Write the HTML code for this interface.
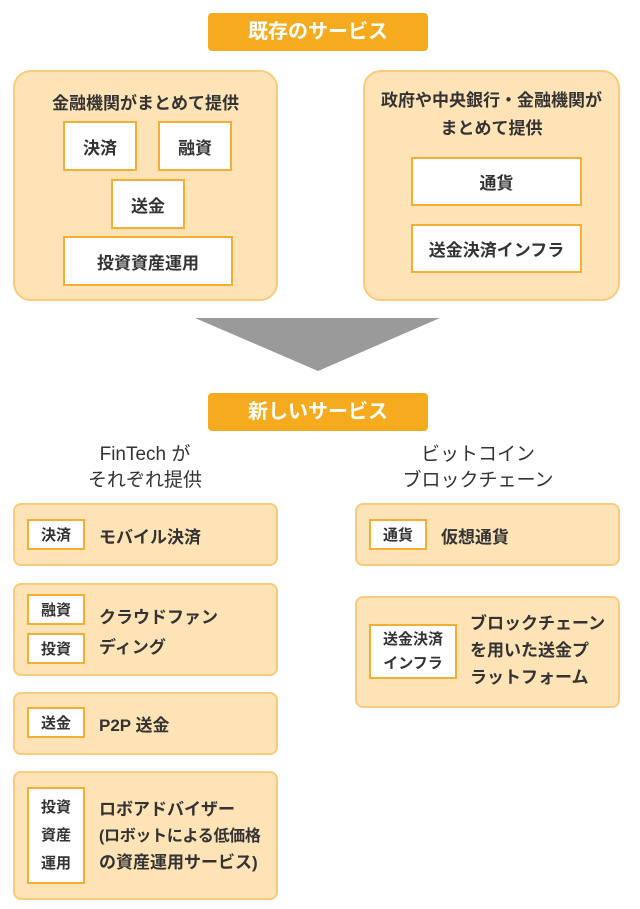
<!DOCTYPE html>
<html><head><meta charset="utf-8"><style>
body{margin:0;width:640px;height:909px;background:#fff;position:relative;overflow:hidden;font-family:"Liberation Sans","Noto Sans CJK JP",sans-serif;color:#333;font-weight:bold}
div{position:absolute;box-sizing:border-box}
.pill{background:#f6ab1e;color:#fff;border-radius:4px;font-size:20px;text-align:center;line-height:38px}
.grp{background:#fde3b6;border:2px solid #f8cc7c;border-radius:18px}
.card{background:#fde3b6;border:2px solid #f8cc7c;border-radius:8px}
.w{background:#fff;border:2px solid #f5ad32;text-align:center;font-size:17px;display:flex;align-items:center;justify-content:center}
.t{font-size:17px;white-space:nowrap}
.h{font-size:19px;font-weight:normal;text-align:center;line-height:26px;color:#333}
.s{font-size:15px}
</style></head><body>
<div class="pill" style="left:208px;top:13px;width:220px;height:38px">既存のサービス</div>
<div class="grp" style="left:13px;top:70px;width:265px;height:231px"></div>
<div class="t" style="left:13px;width:265px;top:89px;text-align:center">金融機関がまとめて提供</div>
<div class="w" style="left:63px;top:121px;width:74px;height:50px">決済</div>
<div class="w" style="left:158px;top:121px;width:74px;height:50px">融資</div>
<div class="w" style="left:111px;top:179px;width:74px;height:50px">送金</div>
<div class="w" style="left:63px;top:236px;width:170px;height:50px">投資資産運用</div>
<div class="grp" style="left:363px;top:70px;width:257px;height:231px"></div>
<div class="t" style="left:363px;width:257px;top:87px;text-align:center;line-height:28px">政府や中央銀行・金融機関が<br>まとめて提供</div>
<div class="w" style="left:411px;top:157px;width:171px;height:49px">通貨</div>
<div class="w" style="left:411px;top:224px;width:171px;height:49px">送金決済インフラ</div>
<svg style="position:absolute;left:0;top:0" width="640" height="909"><polygon points="195,318 440,318 318,371" fill="#9a9a9a"/></svg>
<div class="pill" style="left:208px;top:393px;width:220px;height:38px">新しいサービス</div>
<div class="h" style="left:45px;width:200px;top:442px">FinTech が<br>それぞれ提供</div>
<div class="h" style="left:378px;width:200px;top:442px">ビットコイン<br>ブロックチェーン</div>
<div class="card" style="left:13px;top:503px;width:265px;height:63px"></div>
<div class="w s" style="left:27px;top:519px;width:58px;height:31px">決済</div>
<div class="t" style="left:99px;top:523px">モバイル決済</div>
<div class="card" style="left:13px;top:583px;width:265px;height:93px"></div>
<div class="w s" style="left:27px;top:594px;width:58px;height:31px">融資</div>
<div class="w s" style="left:27px;top:633px;width:58px;height:31px">投資</div>
<div class="t" style="left:99px;top:603px;line-height:30px">クラウドファン<br>ディング</div>
<div class="card" style="left:13px;top:692px;width:265px;height:63px"></div>
<div class="w s" style="left:27px;top:707px;width:58px;height:31px">送金</div>
<div class="t" style="left:99px;top:711px">P2P 送金</div>
<div class="card" style="left:13px;top:771px;width:265px;height:129px"></div>
<div class="w s" style="left:27px;top:787px;width:58px;height:97px;line-height:28px">投資<br>資産<br>運用</div>
<div class="t" style="left:99px;top:797px;line-height:26px">ロボアドバイザー<br><span style="font-size:16px;letter-spacing:-0.3px">(ロボットによる低価格</span><br>の資産運用サービス)</div>
<div class="card" style="left:355px;top:503px;width:265px;height:63px"></div>
<div class="w s" style="left:369px;top:519px;width:58px;height:31px">通貨</div>
<div class="t" style="left:441px;top:523px">仮想通貨</div>
<div class="card" style="left:355px;top:596px;width:265px;height:112px"></div>
<div class="w s" style="left:369px;top:624px;width:88px;height:55px;line-height:24px">送金決済<br>インフラ</div>
<div class="t" style="left:470px;top:610px;line-height:27px">ブロックチェーン<br>を用いた送金プ<br>ラットフォーム</div>
</body></html>
